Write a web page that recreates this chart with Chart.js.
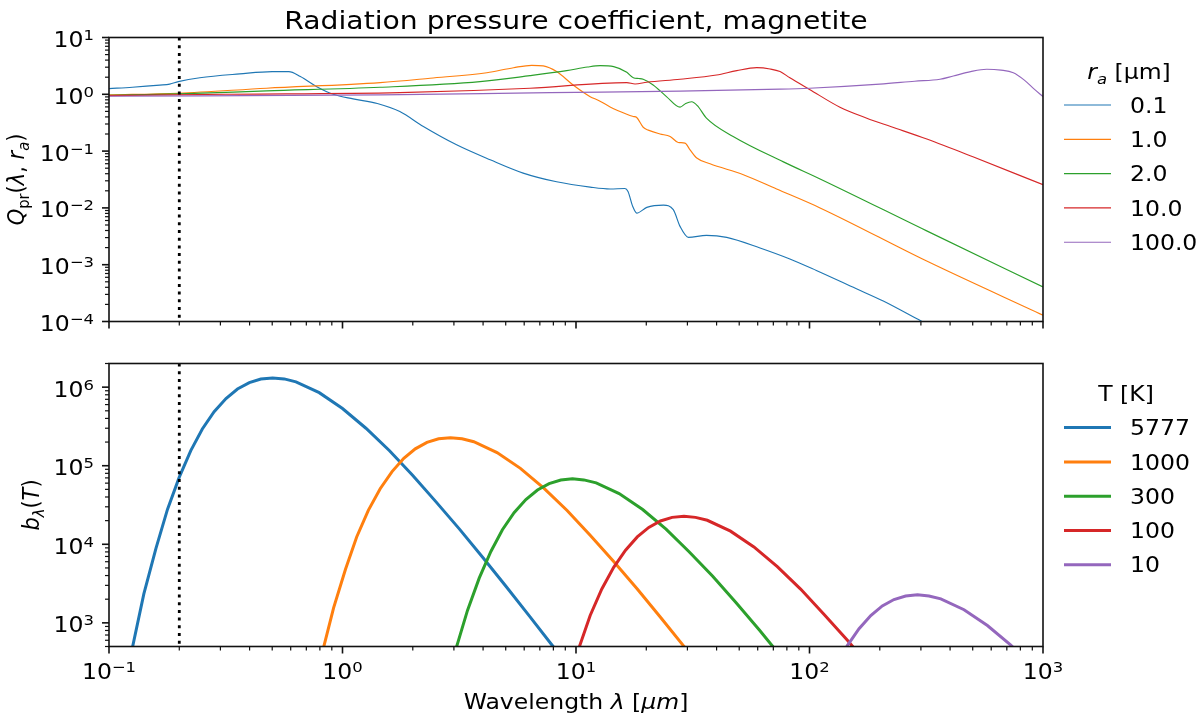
<!DOCTYPE html>
<html>
<head>
<meta charset="utf-8">
<title>Radiation pressure coefficient, magnetite</title>
<script src="https://cdn.jsdelivr.net/npm/chart.js@4.4.1/dist/chart.umd.min.js"></script>
<style>
    html, body { margin: 0; padding: 0; background: #fff; }
    #wrap { position: relative; width: 1200px; height: 720px; }
    #wrap canvas { position: absolute; left: 0; top: 0; }
</style>
</head>
<body>
<div id="wrap">
    <canvas id="qprChart" width="1200" height="720"></canvas>
    <canvas id="planckChart" width="1200" height="720"></canvas>
</div>
<script>
// ---- labels / colours ----
const radii = ['0.1', '1.0', '2.0', '10.0', '100.0'];
const temps = ['5777', '1000', '300', '100', '10'];
const colors = ['#1f77b4', '#ff7f0e', '#2ca02c', '#d62728', '#9467bd'];
const cutoffWavelength = 0.2;

// ---- top panel: Q_pr(lambda, r_a) ----
const wlQ01 = [0.1, 0.126, 0.165, 0.182, 0.198, 0.245, 0.363, 0.50, 0.589, 0.66, 0.776, 0.912, 1.11, 1.41, 1.76, 2.22, 3.08, 4.29, 5.94, 8.26, 11.5, 14.0, 16.2, 16.7, 17.5, 18.2, 20.1, 23.7, 26.1, 27.9, 30.3, 36.2, 44.2, 61.4, 82.4, 107, 158, 207, 303, 501, 1000];
const q01 = [1.26, 1.33, 1.45, 1.51, 1.67, 1.96, 2.29, 2.51, 2.51, 2.05, 1.36, 1.0, 0.83, 0.69, 0.497, 0.271, 0.129, 0.0703, 0.041, 0.0288, 0.0232, 0.0215, 0.022, 0.0195, 0.0106, 0.0081, 0.0102, 0.0112, 0.0093, 0.00473, 0.00303, 0.00329, 0.00303, 0.00197, 0.00126, 0.00079, 0.00038, 0.000229, 0.0001, 0.000035, 0.0000089];

const wlQ1 = [0.1, 0.198, 0.473, 1.45, 2.37, 4.15, 5.40, 6.46, 7.24, 8.26, 9.72, 11.5, 12.5, 14.0, 16.5, 17.6, 18.2, 19.4, 20.4, 22.9, 25.3, 27.4, 29.3, 30.8, 32.9, 37.5, 52.1, 72.3, 111, 316, 1000];
const q1 = [0.975, 1.045, 1.28, 1.61, 1.92, 2.40, 2.94, 3.24, 3.16, 2.51, 1.46, 0.91, 0.78, 0.60, 0.447, 0.407, 0.39, 0.263, 0.234, 0.20, 0.181, 0.142, 0.138, 0.105, 0.0754, 0.0598, 0.0384, 0.0215, 0.01, 0.00117, 0.000129];

const wlQ2 = [0.1, 0.198, 0.473, 1.45, 3.88, 6.35, 9.12, 11.2, 12.7, 14.5, 16.5, 17.6, 18.6, 19.4, 21.4, 24.4, 27.9, 29.5, 31.3, 33.1, 36.2, 47.1, 77.3, 111, 316, 1000];
const q2 = [0.962, 1.016, 1.148, 1.33, 1.67, 2.13, 2.61, 3.02, 3.19, 3.07, 2.44, 1.96, 1.90, 1.84, 1.46, 0.912, 0.593, 0.69, 0.74, 0.63, 0.38, 0.181, 0.0646, 0.0324, 0.00398, 0.000407];

const wlQ10 = [0.1, 0.316, 1.76, 6.35, 16.5, 17.9, 20.1, 27.9, 40.0, 48.8, 59.4, 67.8, 74.8, 82.4, 100, 135, 176, 224, 318, 501, 1000];
const q10 = [0.95, 1.0, 1.07, 1.28, 1.61, 1.52, 1.63, 1.84, 2.19, 2.61, 2.94, 2.79, 2.51, 1.95, 1.22, 0.593, 0.38, 0.269, 0.163, 0.0794, 0.0256];

const wlQ100 = [0.1, 1.45, 7.74, 27.9, 74.8, 100, 200, 282, 362, 413, 490, 574, 661, 746, 832, 912, 1000];
const q100 = [0.925, 0.977, 1.07, 1.135, 1.23, 1.28, 1.51, 1.70, 1.84, 2.10, 2.51, 2.76, 2.66, 2.40, 1.78, 1.26, 0.912];

// ---- bottom panel: b_lambda(T) ----
const wl5777 = [0.126, 0.141, 0.159, 0.178, 0.200, 0.224, 0.251, 0.282, 0.317, 0.355, 0.399, 0.447, 0.502, 0.563, 0.632, 0.795, 1.00, 1.26, 1.59, 2.00, 2.51, 3.17, 3.99, 5.02, 6.32, 7.95, 10.0];
const b5777 = [485, 2340, 8950, 27800, 71500, 156000, 294000, 486000, 715000, 946000, 1141000, 1270000, 1312000, 1273000, 1167000, 851000, 535000, 300000, 155000, 75300, 34900, 15600, 6790, 2900, 1220, 508, 209];

const wl1000 = [0.817, 0.916, 1.03, 1.15, 1.29, 1.45, 1.63, 1.83, 2.05, 2.30, 2.58, 2.90, 3.25, 3.65, 4.59, 5.78, 7.28, 9.16, 11.5, 14.5, 18.3, 23.0, 29.0, 36.5];
const b1000 = [406, 1550, 4810, 12400, 27000, 50900, 84100, 124000, 164000, 198000, 220000, 227000, 220000, 202000, 147000, 92500, 51900, 26900, 13000, 6030, 2700, 1180, 502, 211];

const wl300 = [3.06, 3.43, 3.85, 4.32, 4.84, 5.43, 6.10, 6.84, 7.67, 8.61, 9.66, 10.8, 12.2, 15.3, 19.3, 24.3, 30.5, 38.5, 48.4, 61.0, 76.7];
const b300 = [465, 1440, 3710, 8110, 15300, 25200, 37100, 49100, 59200, 65900, 68100, 66000, 60500, 44200, 27700, 15600, 8050, 3910, 1810, 809, 352];

const wl100 = [9.16, 10.3, 11.5, 12.9, 14.5, 16.3, 18.3, 20.5, 23.0, 25.8, 29.0, 32.5, 36.5, 45.9, 57.8, 72.8, 91.6, 115, 145, 183];
const b100 = [155, 481, 1240, 2700, 5090, 8410, 12400, 16400, 19800, 22000, 22700, 22000, 20200, 14700, 9250, 5190, 2690, 1300, 603, 270];

const wl10 = [129, 145, 163, 183, 205, 230, 258, 290, 325, 365, 459, 578, 728, 916];
const b10 = [270, 509, 841, 1240, 1640, 1980, 2200, 2270, 2200, 2020, 1470, 925, 519, 269];

// ---- axis ticks ----
const xTicks = [0.1, 1, 10, 100, 1000];
const xTickExp = ['\u22121', '0', '1', '2', '3'];
const qTicks = [1e-4, 1e-3, 1e-2, 1e-1, 1, 10];
const qTickExp = ['\u22124', '\u22123', '\u22122', '\u22121', '0', '1'];
const bTicks = [1e3, 1e4, 1e5, 1e6];
const bTickExp = ['3', '4', '5', '6'];

// ---- text helpers (the reference is slightly stretched sideways) ----
const FONT = '"DejaVu Sans", "Liberation Sans", sans-serif';
const FS = 21;
const FS_SUP = 14.7;
const FS_TITLE = 25.2;
const SX = 1.12;

function fontOf(r) {
    return (r.it ? 'italic ' : '') + (r.size || FS) + 'px ' + FONT;
}

function drawRuns(ctx, runs, x, y, align, rotated) {
    ctx.save();
    ctx.translate(x, y);
    if (rotated) {
        ctx.rotate(-Math.PI / 2);
        ctx.scale(1, SX);
    } else {
        ctx.scale(SX, 1);
    }
    ctx.fillStyle = '#000';
    ctx.textBaseline = 'alphabetic';
    ctx.textAlign = 'left';
    let w = 0;
    runs.forEach(r => { ctx.font = fontOf(r); w += ctx.measureText(r.t).width; });
    let cx = align === 'center' ? -w / 2 : (align === 'right' ? -w : 0);
    runs.forEach(r => {
        ctx.font = fontOf(r);
        ctx.fillText(r.t, cx, r.dy || 0);
        cx += ctx.measureText(r.t).width;
    });
    ctx.restore();
}

function powerRuns(exp) {
    return [{ t: '10' }, { t: exp, size: FS_SUP, dy: -7 }];
}

// ---- axis drawing helpers ----
function drawFrame(ctx, a) {
    ctx.save();
    ctx.strokeStyle = '#111';
    ctx.lineWidth = 1.6;
    ctx.setLineDash([]);
    ctx.strokeRect(a.left, a.top, a.right - a.left, a.bottom - a.top);
    ctx.restore();
}

function drawLogTicks(ctx, scale, a, horizontal) {
    const lo = scale.min, hi = scale.max;
    ctx.save();
    ctx.strokeStyle = '#111';
    for (let e = Math.floor(Math.log10(lo)); e <= Math.ceil(Math.log10(hi)); e++) {
        for (let k = 1; k <= 9; k++) {
            const v = k * Math.pow(10, e);
            if (v < lo * 0.999 || v > hi * 1.001) continue;
            const p = scale.getPixelForValue(v);
            const len = k === 1 ? 7 : 4;
            ctx.lineWidth = k === 1 ? 1.6 : 1.2;
            ctx.beginPath();
            if (horizontal) {
                ctx.moveTo(p, a.bottom);
                ctx.lineTo(p, a.bottom + len);
            } else {
                ctx.moveTo(a.left, p);
                ctx.lineTo(a.left - len, p);
            }
            ctx.stroke();
        }
    }
    ctx.restore();
}

function drawCutoff(ctx, xScale, a) {
    const px = xScale.getPixelForValue(cutoffWavelength);
    ctx.save();
    ctx.strokeStyle = '#000';
    ctx.lineWidth = 2.8;
    ctx.setLineDash([3, 4.7]);
    ctx.beginPath();
    ctx.moveTo(px, a.top);
    ctx.lineTo(px, a.bottom);
    ctx.stroke();
    ctx.restore();
}

function drawYTickLabels(ctx, yScale, a, ticks, exps) {
    ticks.forEach((v, i) => {
        const p = yScale.getPixelForValue(v);
        drawRuns(ctx, powerRuns(exps[i]), a.left - 15, p + 9.5, 'right');
    });
}

function drawLegend(ctx, titleRuns, titleCx, titleY, labels, firstY, lw) {
    drawRuns(ctx, titleRuns, titleCx, titleY + 7.5, 'center');
    labels.forEach((lab, i) => {
        const y = firstY + i * 34.3;
        ctx.save();
        ctx.strokeStyle = colors[i];
        ctx.lineWidth = lw;
        ctx.beginPath();
        ctx.moveTo(1064, y);
        ctx.lineTo(1111, y);
        ctx.stroke();
        ctx.restore();
        drawRuns(ctx, [{ t: lab }], 1130, y + 7.6, 'left');
    });
}

function makeSeries(xs, ys) {
    return xs.map((x, i) => ({ x: x, y: ys[i] }));
}

function baseOptions(yMin, yMax, padding) {
    return {
        responsive: false,
        animation: false,
        devicePixelRatio: 1,
        layout: { padding: padding },
        plugins: {
            legend: { display: false },
            tooltip: { enabled: false },
            title: { display: false }
        },
        elements: { point: { radius: 0 } },
        scales: {
            x: { type: 'logarithmic', min: 0.1, max: 1000, display: false },
            y: { type: 'logarithmic', min: yMin, max: yMax, display: false }
        }
    };
}

// ---- top chart: radiation pressure coefficient ----
const qSeries = [
    makeSeries(wlQ01, q01),
    makeSeries(wlQ1, q1),
    makeSeries(wlQ2, q2),
    makeSeries(wlQ10, q10),
    makeSeries(wlQ100, q100)
];

const qprDecor = {
    id: 'qprDecor',
    afterDatasetsDraw(chart) {
        const ctx = chart.ctx;
        const a = chart.chartArea;
        const x = chart.scales.x, y = chart.scales.y;
        drawCutoff(ctx, x, a);
        drawFrame(ctx, a);
        drawLogTicks(ctx, x, a, true);
        drawLogTicks(ctx, y, a, false);
        drawYTickLabels(ctx, y, a, qTicks, qTickExp);

        // y label Q_pr(lambda, r_a)
        drawRuns(ctx, [
            { t: 'Q', it: true },
            { t: 'pr', size: FS_SUP, dy: 4.5 },
            { t: '(' },
            { t: '\u03bb', it: true },
            { t: ', ' },
            { t: 'r', it: true },
            { t: 'a', it: true, size: FS_SUP, dy: 4.5 },
            { t: ')' }
        ], 24, (a.top + a.bottom) / 2, 'center', true);

        // title
        drawRuns(ctx, [{ t: 'Radiation pressure coefficient, magnetite', size: FS_TITLE }],
            (a.left + a.right) / 2, 28.5, 'center');

        drawLegend(ctx, [
            { t: 'r', it: true },
            { t: 'a', it: true, size: FS_SUP, dy: 4.5 },
            { t: ' [\u03bcm]' }
        ], 1129, 71.5, radii, 105, 1.15);
    }
};

new Chart(document.getElementById('qprChart'), {
    type: 'line',
    data: {
        datasets: radii.map((r, i) => ({
            label: r,
            data: qSeries[i],
            borderColor: colors[i],
            borderWidth: 1.15,
            cubicInterpolationMode: 'monotone',
            fill: false,
            clip: 0,
            order: 4 - i
        }))
    },
    options: baseOptions(1e-4, 10, { left: 109, right: 157, top: 37.5, bottom: 398.5 }),
    plugins: [qprDecor]
});

// ---- bottom chart: normalised black-body spectra ----
const bSeries = [
    makeSeries(wl5777, b5777),
    makeSeries(wl1000, b1000),
    makeSeries(wl300, b300),
    makeSeries(wl100, b100),
    makeSeries(wl10, b10)
];

const planckDecor = {
    id: 'planckDecor',
    afterDatasetsDraw(chart) {
        const ctx = chart.ctx;
        const a = chart.chartArea;
        const x = chart.scales.x, y = chart.scales.y;
        drawCutoff(ctx, x, a);
        drawFrame(ctx, a);
        drawLogTicks(ctx, x, a, true);
        drawLogTicks(ctx, y, a, false);
        drawYTickLabels(ctx, y, a, bTicks, bTickExp);

        xTicks.forEach((v, i) => {
            const p = x.getPixelForValue(v);
            drawRuns(ctx, powerRuns(xTickExp[i]), p, 679, 'center');
        });

        // x label
        drawRuns(ctx, [
            { t: 'Wavelength ' },
            { t: '\u03bb', it: true },
            { t: ' [' },
            { t: '\u03bcm', it: true },
            { t: ']' }
        ], (a.left + a.right) / 2, 709, 'center');

        // y label b_lambda(T)
        drawRuns(ctx, [
            { t: 'b', it: true },
            { t: '\u03bb', it: true, size: FS_SUP, dy: 4.5 },
            { t: '(' },
            { t: 'T', it: true },
            { t: ')' }
        ], 39, (a.top + a.bottom) / 2, 'center', true);

        drawLegend(ctx, [{ t: 'T [K]' }], 1126, 393.3, temps, 427.6, 3);
    }
};

new Chart(document.getElementById('planckChart'), {
    type: 'line',
    data: {
        datasets: temps.map((t, i) => ({
            label: t,
            data: bSeries[i],
            borderColor: colors[i],
            borderWidth: 3,
            tension: 0,
            fill: false,
            clip: 0,
            order: 4 - i
        }))
    },
    options: baseOptions(500, 2e6, { left: 109, right: 157, top: 363.5, bottom: 73.5 }),
    plugins: [planckDecor]
});
</script>
</body>
</html>
